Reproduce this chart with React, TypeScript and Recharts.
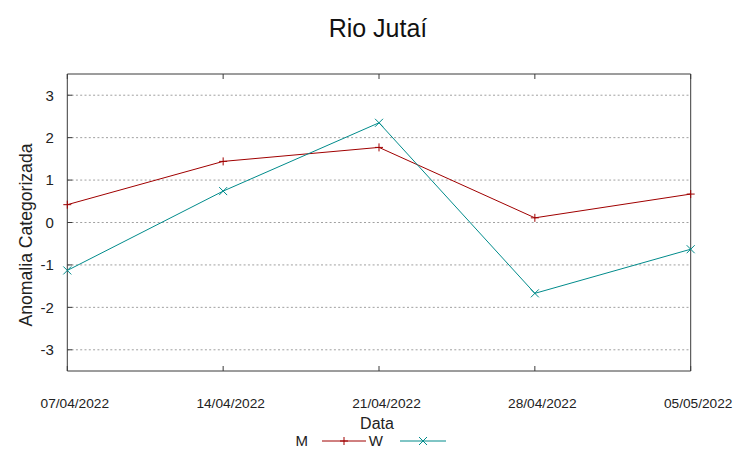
import React from 'react';
import { LineChart, Line, XAxis, YAxis, CartesianGrid, ReferenceArea } from 'recharts';

const dates = ['07/04/2022', '14/04/2022', '21/04/2022', '28/04/2022', '05/05/2022'];
const seriesM = [0.42, 1.44, 1.77, 0.11, 0.67];
const seriesW = [-1.13, 0.74, 2.35, -1.67, -0.63];
const yTicks = [-3, -2, -1, 0, 1, 2, 3];
const yDomain = [-3.5, 3.5];

const data = dates.map((d, i) => ({ date: d, M: seriesM[i], W: seriesW[i] }));

const RED = '#a00000';
const TEAL = '#008b8b';
const BORDER = '#3a3a3a';
const FONT = '"Liberation Sans", Arial, sans-serif';

const PlusDot = (props: any) => {
  const { cx, cy } = props;
  if (cx == null || cy == null) return null;
  return (
    <g>
      <line x1={cx - 4} y1={cy} x2={cx + 4} y2={cy} stroke={RED} strokeWidth={1} />
      <line x1={cx} y1={cy - 4} x2={cx} y2={cy + 4} stroke={RED} strokeWidth={1} />
    </g>
  );
};

const CrossDot = (props: any) => {
  const { cx, cy } = props;
  if (cx == null || cy == null) return null;
  return (
    <g>
      <line x1={cx - 4} y1={cy - 4} x2={cx + 4} y2={cy + 4} stroke={TEAL} strokeWidth={1} />
      <line x1={cx - 4} y1={cy + 4} x2={cx + 4} y2={cy - 4} stroke={TEAL} strokeWidth={1} />
    </g>
  );
};

const BottomTick = (props: any) => {
  const { x, y, payload } = props;
  return (
    <g>
      <line x1={x} y1={y} x2={x} y2={y - 5} stroke={BORDER} strokeWidth={1} />
      <text x={x + 7.5} y={y + 36.5} textAnchor="middle" fontSize={13.7} fill="#222" fontFamily={FONT}>
        {payload.value}
      </text>
    </g>
  );
};

const TopTick = (props: any) => {
  const { x, y } = props;
  return <line x1={x} y1={y} x2={x} y2={y + 5} stroke={BORDER} strokeWidth={1} />;
};

const LeftTick = (props: any) => {
  const { x, y, payload } = props;
  return (
    <g>
      <line x1={x} y1={y} x2={x + 5} y2={y} stroke={BORDER} strokeWidth={1} />
      <text x={x - 13.5} y={y + 5.3} textAnchor="end" fontSize={15} fill="#222" fontFamily={FONT}>
        {payload.value}
      </text>
    </g>
  );
};

const RightTick = (props: any) => {
  const { x, y } = props;
  return <line x1={x} y1={y} x2={x - 5} y2={y} stroke={BORDER} strokeWidth={1} />;
};

export default function App() {
  return (
    <div style={{ position: 'absolute', left: 0, top: 0, width: 753, height: 459, background: '#fff' }}>
      <LineChart
        width={753}
        height={459}
        data={data}
        margin={{ top: 73, right: 61.3, bottom: 58, left: 7.3 }}
      >
        <CartesianGrid
          yAxisId="left"
          xAxisId="bottom"
          vertical={false}
          horizontal={true}
          horizontalValues={yTicks}
          stroke="#a0a0a0"
          strokeDasharray="2 2.3"
        />
        <XAxis
          dataKey="date"
          xAxisId="bottom"
          orientation="bottom"
          height={30}
          interval={0}
          tickSize={0}
          tickMargin={0}
          tickLine={false}
          axisLine={false}
          tick={<BottomTick />}
        />
        <XAxis
          dataKey="date"
          xAxisId="top"
          orientation="top"
          height={1}
          interval={0}
          tickSize={0}
          tickMargin={0}
          tickLine={false}
          axisLine={false}
          tick={<TopTick />}
        />
        <YAxis
          yAxisId="left"
          orientation="left"
          width={60}
          type="number"
          domain={yDomain}
          ticks={yTicks}
          interval={0}
          tickSize={0}
          tickMargin={0}
          tickLine={false}
          axisLine={false}
          tick={<LeftTick />}
        />
        <YAxis
          yAxisId="right"
          orientation="right"
          width={1}
          type="number"
          domain={yDomain}
          ticks={yTicks}
          interval={0}
          tickSize={0}
          tickMargin={0}
          tickLine={false}
          axisLine={false}
          tick={<RightTick />}
        />
        <ReferenceArea
          xAxisId="bottom"
          yAxisId="left"
          x1={dates[0]}
          x2={dates[dates.length - 1]}
          y1={yDomain[0]}
          y2={yDomain[1]}
          fill="none"
          fillOpacity={0}
          stroke={BORDER}
          strokeWidth={1}
          ifOverflow="visible"
        />
        <Line
          xAxisId="bottom"
          yAxisId="left"
          type="linear"
          dataKey="M"
          stroke={RED}
          strokeWidth={1}
          dot={<PlusDot />}
          activeDot={false}
          isAnimationActive={false}
        />
        <Line
          xAxisId="bottom"
          yAxisId="left"
          type="linear"
          dataKey="W"
          stroke={TEAL}
          strokeWidth={1}
          dot={<CrossDot />}
          activeDot={false}
          isAnimationActive={false}
        />
      </LineChart>
      <svg
        width={753}
        height={459}
        style={{ position: 'absolute', left: 0, top: 0, pointerEvents: 'none' }}
      >
        <text x={378} y={37} textAnchor="middle" fontSize={25} fill="#111" fontFamily={FONT}>
          Rio Jutaí
        </text>
        <text
          x={32}
          y={235}
          textAnchor="middle"
          fontSize={17.6}
          fill="#222"
          fontFamily={FONT}
          transform="rotate(-90, 32, 235)"
        >
          Anomalia Categorizada
        </text>
        <text x={377} y={429} textAnchor="middle" fontSize={16} fill="#222" fontFamily={FONT}>
          Data
        </text>
        <text x={308} y={446} textAnchor="end" fontSize={15} fill="#222" fontFamily={FONT}>
          M
        </text>
        <line x1={322} y1={441} x2={366} y2={441} stroke={RED} strokeWidth={1} />
        <line x1={340} y1={441} x2={348} y2={441} stroke={RED} strokeWidth={1} />
        <line x1={344} y1={437} x2={344} y2={445} stroke={RED} strokeWidth={1} />
        <text x={383} y={446} textAnchor="end" fontSize={15} fill="#222" fontFamily={FONT}>
          W
        </text>
        <line x1={400} y1={441} x2={446} y2={441} stroke={TEAL} strokeWidth={1} />
        <line x1={419} y1={437} x2={427} y2={445} stroke={TEAL} strokeWidth={1} />
        <line x1={419} y1={445} x2={427} y2={437} stroke={TEAL} strokeWidth={1} />
      </svg>
    </div>
  );
}
